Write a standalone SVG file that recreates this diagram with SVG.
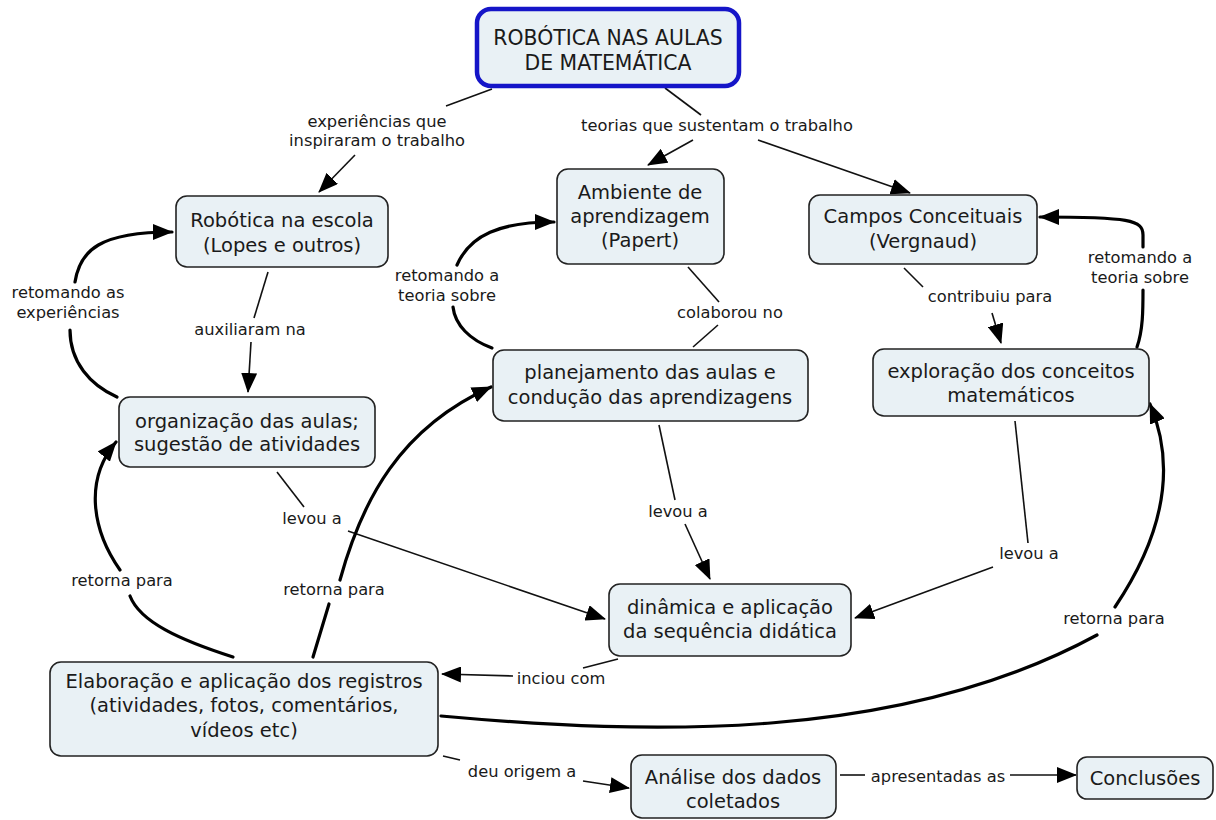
<svg xmlns="http://www.w3.org/2000/svg" width="1216" height="820" viewBox="0 0 1216 820">
<defs>
<marker id="ah" viewBox="0 0 20 16" refX="19" refY="8" markerWidth="20" markerHeight="16" markerUnits="userSpaceOnUse" orient="auto">
<path d="M0,0 L20,8 L0,16 z" fill="#000"/>
</marker>
<style>
.node rect{fill:#e9f1f5;stroke:#222;stroke-width:1.6}
.top rect{fill:#e9f1f5;stroke:#1515c8;stroke-width:4.5}
.nt{font-family:"DejaVu Sans",Verdana,sans-serif;font-size:19.5px;fill:#1a1a1a;text-anchor:middle}
.tt{font-size:20.4px}
.lt{font-family:"DejaVu Sans",Verdana,sans-serif;font-size:16.3px;fill:#1a1a1a;text-anchor:middle}
.thin{fill:none;stroke:#111;stroke-width:1.6}
.thick{fill:none;stroke:#000;stroke-width:3.2;stroke-linecap:round}
</style>
</defs>
<rect width="1216" height="820" fill="#fff"/>

<g id="connectors">
<path class="thin" d="M492,89 L446,106"/>
<path class="thin" d="M355,155 L319,192" marker-end="url(#ah)"/>
<path class="thin" d="M665,88 L701,115"/>
<path class="thin" d="M693,140 L648,165" marker-end="url(#ah)"/>
<path class="thin" d="M758,140 L910,193" marker-end="url(#ah)"/>
<path class="thin" d="M268,272 L254,318"/>
<path class="thin" d="M251,342 L248,392" marker-end="url(#ah)"/>
<path class="thin" d="M688,267 L719,302"/>
<path class="thin" d="M718,325 L693,347"/>
<path class="thin" d="M904,268 L923,287"/>
<path class="thin" d="M992,313 L1001,343" marker-end="url(#ah)"/>
<path class="thin" d="M277,472 L304,507"/>
<path class="thin" d="M348,531 L605,619" marker-end="url(#ah)"/>
<path class="thin" d="M659,425 L675,500"/>
<path class="thin" d="M685,524 L710,579" marker-end="url(#ah)"/>
<path class="thin" d="M1015,421 L1028,543"/>
<path class="thin" d="M993,567 L855,618" marker-end="url(#ah)"/>
<path class="thin" d="M618,659 L583,668"/>
<path class="thin" d="M513,676 L442,674" marker-end="url(#ah)"/>
<path class="thin" d="M443,756 L460,760"/>
<path class="thin" d="M583,781 L629,788" marker-end="url(#ah)"/>
<path class="thin" d="M840,775 L865,775"/>
<path class="thin" d="M1010,775 L1076,775" marker-end="url(#ah)"/>

<path class="thick" d="M117,397 C 90,385 70,362 70,330"/>
<path class="thick" d="M75,282 C 80,250 100,232 172,232" marker-end="url(#ah)"/>
<path class="thick" d="M492,348 C 470,340 455,325 453,307"/>
<path class="thick" d="M457,265 C 470,235 500,222 554,222" marker-end="url(#ah)"/>
<path class="thick" d="M1137,347 C 1143,330 1143,310 1143,290"/>
<path class="thick" d="M1143,247 L1143,235 C 1143,220 1130,217 1040,217" marker-end="url(#ah)"/>
<path class="thick" d="M233,657 C 180,640 140,622 130,596"/>
<path class="thick" d="M120,570 C 92,530 84,480 116,442" marker-end="url(#ah)"/>
<path class="thick" d="M313,657 L329,604"/>
<path class="thick" d="M340,580 C 362,500 400,428 491,387" marker-end="url(#ah)"/>
<path class="thick" d="M441,716 C 650,735 900,742 1097,635"/>
<path class="thick" d="M1115,607 C 1160,540 1178,470 1150,404" marker-end="url(#ah)"/>
</g>

<g id="labels">
<text class="lt" x="377" y="127">experiências que</text>
<text class="lt" x="377" y="146">inspiraram o trabalho</text>
<text class="lt" x="717" y="131">teorias que sustentam o trabalho</text>
<text class="lt" x="68" y="298">retomando as</text>
<text class="lt" x="68" y="318">experiências</text>
<text class="lt" x="250" y="335">auxiliaram na</text>
<text class="lt" x="447" y="281">retomando a</text>
<text class="lt" x="447" y="301">teoria sobre</text>
<text class="lt" x="730" y="318">colaborou no</text>
<text class="lt" x="990" y="302">contribuiu para</text>
<text class="lt" x="1140" y="263">retomando a</text>
<text class="lt" x="1140" y="283">teoria sobre</text>
<text class="lt" x="312" y="524">levou a</text>
<text class="lt" x="678" y="517">levou a</text>
<text class="lt" x="1029" y="559">levou a</text>
<text class="lt" x="122" y="586">retorna para</text>
<text class="lt" x="334" y="595">retorna para</text>
<text class="lt" x="1114" y="624">retorna para</text>
<text class="lt" x="561" y="684">inciou com</text>
<text class="lt" x="522" y="777">deu origem a</text>
<text class="lt" x="938" y="782">apresentadas as</text>
</g>

<g id="n-top" class="top">
<rect x="477" y="9" width="262" height="77" rx="14"/>
<text class="nt tt" x="608" y="45">ROBÓTICA NAS AULAS</text>
<text class="nt tt" x="608" y="70">DE MATEMÁTICA</text>
</g>
<g id="n-robotica" class="node">
<rect x="176" y="196" width="212" height="71" rx="11"/>
<text class="nt" x="282" y="227">Robótica na escola</text>
<text class="nt" x="282" y="252">(Lopes e outros)</text>
</g>
<g id="n-ambiente" class="node">
<rect x="557" y="169" width="167" height="95" rx="11"/>
<text class="nt" x="640" y="199">Ambiente de</text>
<text class="nt" x="640" y="223">aprendizagem</text>
<text class="nt" x="640" y="247">(Papert)</text>
</g>
<g id="n-campos" class="node">
<rect x="809" y="195" width="228" height="69" rx="11"/>
<text class="nt" x="923" y="223">Campos Conceituais</text>
<text class="nt" x="923" y="248">(Vergnaud)</text>
</g>
<g id="n-organizacao" class="node">
<rect x="119" y="397" width="256" height="70" rx="11"/>
<text class="nt" x="247" y="428">organização das aulas;</text>
<text class="nt" x="247" y="451">sugestão de atividades</text>
</g>
<g id="n-planejamento" class="node">
<rect x="493" y="350" width="315" height="71" rx="11"/>
<text class="nt" x="650" y="379">planejamento das aulas e</text>
<text class="nt" x="650" y="404">condução das aprendizagens</text>
</g>
<g id="n-exploracao" class="node">
<rect x="873" y="349" width="276" height="67" rx="11"/>
<text class="nt" x="1011" y="378">exploração dos conceitos</text>
<text class="nt" x="1011" y="402">matemáticos</text>
</g>
<g id="n-dinamica" class="node">
<rect x="609" y="584" width="242" height="72" rx="11"/>
<text class="nt" x="730" y="614">dinâmica e aplicação</text>
<text class="nt" x="730" y="638">da sequência didática</text>
</g>
<g id="n-elaboracao" class="node">
<rect x="50" y="662" width="388" height="94" rx="11"/>
<text class="nt" x="244" y="688">Elaboração e aplicação dos registros</text>
<text class="nt" x="244" y="712">(atividades, fotos, comentários,</text>
<text class="nt" x="244" y="737">vídeos etc)</text>
</g>
<g id="n-analise" class="node">
<rect x="631" y="755" width="205" height="63" rx="11"/>
<text class="nt" x="733" y="784">Análise dos dados</text>
<text class="nt" x="733" y="808">coletados</text>
</g>
<g id="n-conclusoes" class="node">
<rect x="1077" y="757" width="136" height="42" rx="10"/>
<text class="nt" x="1145" y="785">Conclusões</text>
</g>
</svg>
